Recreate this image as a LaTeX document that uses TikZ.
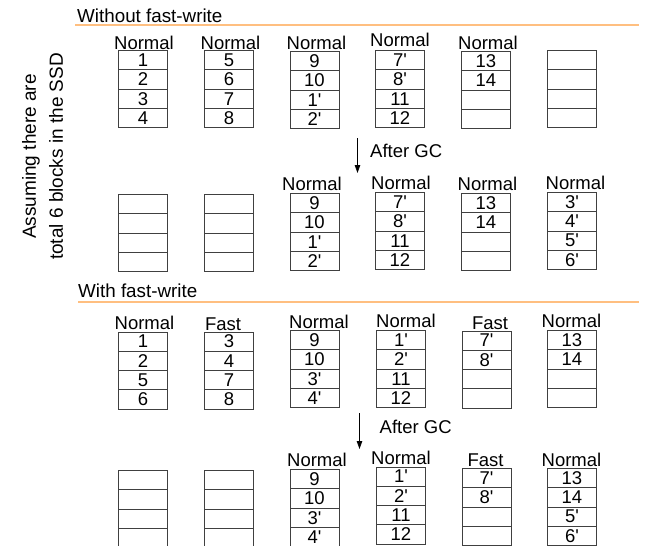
\documentclass[tikz,border=0pt]{standalone}
\usepackage{fontspec}
\newfontfamily\arialfont{Liberation Sans}
\usepackage{tikz}
\usetikzlibrary{arrows.meta}

\begin{document}
\begin{tikzpicture}[
    x=1pt, y=-1pt,
    every node/.style={font=\arialfont\fontsize{18.5}{20}\selectfont},
    cell/.style={rectangle, draw=black!75, line width=0.9pt, minimum width=49pt,
                 minimum height=19.3pt, inner sep=0pt, anchor=north west},
    kind/.style={anchor=base, inner sep=0pt},
    head/.style={anchor=base west, inner sep=0pt,
                 font=\arialfont\fontsize{18.8}{22}\selectfont},
    rule/.style={draw=orange!50, line width=1.4pt},
    arr/.style={-{Triangle[length=8pt,width=5.5pt]}, line width=0.8pt}
]
\useasboundingbox (0,0) rectangle (646,546);

% section headings
\node[head] (without) at (77,22)   {Without fast-write};
\node[head] (with)    at (78,297.5) {With fast-write};
\draw[rule] (75,25)  -- (639,25);
\draw[rule] (78,302) -- (639,302);

\node[rotate=90, align=center, font=\arialfont\fontsize{19}{27}\selectfont]
    (assume) at (42.5,156.5) {Assuming there are\\total 6 blocks in the SSD};

% blocks with a type: row/block/x/top/label x/label y/label/pages
\foreach \r/\b/\x/\t/\lx/\ly/\lab/\ca/\cb/\cc/\cd in {
    1/1/118/50/144/49.5/Normal/1/2/3/4,
    1/2/204/50/230.5/49/Normal/5/6/7/8,
    1/3/289.5/51/316.5/49/Normal/9/10/1'/2',
    1/4/375/50/400/46.5/Normal/7'/8'/11/12,
    1/5/461/51/488/49/Normal/13/14/{}/{},
    2/3/289.5/193/312/190/Normal/9/10/1'/2',
    2/4/375/192/401/189.5/Normal/7'/8'/11/12,
    2/5/461/193/487.5/190.5/Normal/13/14/{}/{},
    2/6/547/192/575.5/189.5/Normal/3'/4'/5'/6',
    3/1/118/331.5/144.5/329.5/Normal/1/2/5/6,
    3/2/204/331.5/223/330.5/Fast/3/4/7/8,
    3/3/289.5/330/319/328/Normal/9/10/3'/4',
    3/4/376/330/406/327/Normal/1'/2'/11/12,
    3/5/461.5/330.5/490/329/Fast/7'/8'/{}/{},
    3/6/547/330/571.5/327.5/Normal/13/14/{}/{},
    4/3/289.5/469/317/466/Normal/9/10/3'/4',
    4/4/376/466.5/401/464.5/Normal/1'/2'/11/12,
    4/5/461.5/468/485.5/466/Fast/7'/8'/{}/{},
    4/6/547/468/571.5/466/Normal/13/14/5'/6'}
{
    \node[kind] (l\r\b) at (\lx,\ly) {\lab};
    \foreach \i/\v in {1/\ca,2/\cb,3/\cc,4/\cd}
        \node[cell] (c\r\b\i) at (\x,\t+19.3*\i-19.3) {\v};
}

% free blocks
\foreach \r/\b/\x/\t in {1/6/547/50, 2/1/118/194, 2/2/204/194,
                         4/1/118/470, 4/2/204/470}
    \foreach \i in {1,...,4}
        \node[cell] (c\r\b\i) at (\x,\t+19.3*\i-19.3) {};

% garbage collection steps
\coordinate (gc1a) at (357.5,138);
\coordinate (gc1b) at (357.5,173);
\draw[arr] (gc1a) -- (gc1b);
\node[anchor=base west, inner sep=0pt] (gc1) at (370,157) {After GC};

\coordinate (gc2a) at (359.5,413);
\coordinate (gc2b) at (359.5,449);
\draw[arr] (gc2a) -- (gc2b);
\node[anchor=base west, inner sep=0pt] (gc2) at (379.5,433) {After GC};
\end{tikzpicture}
\end{document}
